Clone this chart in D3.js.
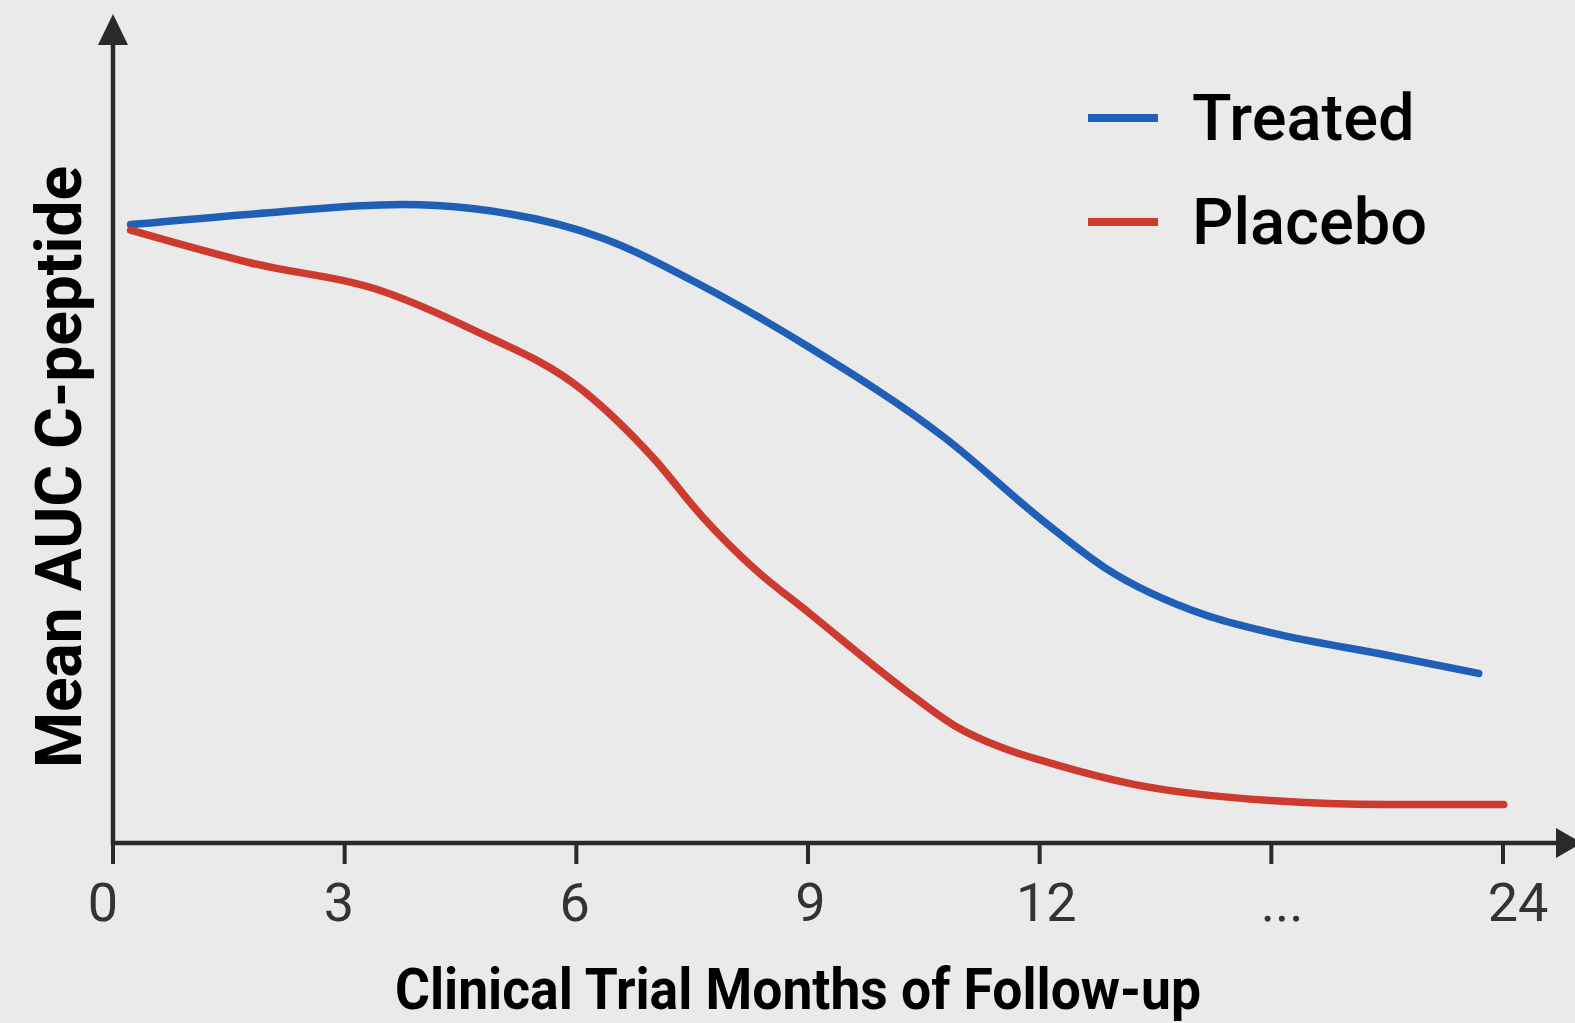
<!DOCTYPE html>
<html>
<head>
<meta charset="utf-8">
<script src="https://cdn.jsdelivr.net/npm/d3@7"></script>
<style>
  html, body { margin: 0; padding: 0; background: #eaeaea; }
  svg { display: block; }
</style>
</head>
<body>
<svg id="chart" width="1575" height="1023"></svg>
<script>
// Axis slots: each tick label occupies one evenly spaced slot along the x axis.
const tickLabels = ["0", "3", "6", "9", "12", "...", "24"];

// Series positions (in axis slots) and mean AUC C-peptide (relative units).
const treatedX = [0.076, 0.596, 1.247, 1.55, 2.114, 2.547, 3.003, 3.588, 4.022, 4.282, 4.715, 4.997, 5.496, 5.895];
const treatedY = [77.3, 78.6, 79.8, 79.3, 75.6, 69.6, 62.0, 50.7, 40.1, 34.4, 28.5, 26.3, 23.5, 21.2];

const placeboX = [0.076, 0.596, 1.16, 1.55, 2.027, 2.33, 2.547, 2.764, 3.003, 3.415, 3.631, 3.848, 4.022, 4.412, 4.997, 5.496, 6.003];
const placeboY = [76.6, 72.5, 69.0, 64.2, 56.6, 48.2, 40.7, 34.4, 28.8, 19.2, 14.7, 11.8, 10.2, 7.3, 5.3, 4.8, 4.8];

const seriesNames = ["Treated", "Placebo"];
const seriesColors = ["#1f5fb6", "#cd3a30"];

const svg = d3.select("#chart");
const W = 1575, H = 1023;
svg.append("rect").attr("width", W).attr("height", H).attr("fill", "#eaeaea");

const x0 = 113, x1 = 1503, yBase = 843;
const x = d3.scaleLinear().domain([0, tickLabels.length - 1]).range([x0, x1]);
// tick labels sit on a slightly wider spread than the tick marks
const xLabel = d3.scaleLinear().domain([0, tickLabels.length - 1]).range([103, 1518]);
const y = d3.scaleLinear().domain([0, 100]).range([yBase, 43]);

const axisColor = "#2a2a2a";

// x axis line with arrow head
svg.append("line")
  .attr("x1", x0).attr("x2", 1562).attr("y1", yBase).attr("y2", yBase)
  .attr("stroke", axisColor).attr("stroke-width", 4.5);
svg.append("path")
  .attr("d", `M1556,${yBase - 15} L1582,${yBase} L1556,${yBase + 15} Z`)
  .attr("fill", axisColor);

// y axis line with arrow head
svg.append("line")
  .attr("x1", x0).attr("x2", x0).attr("y1", yBase + 2).attr("y2", 40)
  .attr("stroke", axisColor).attr("stroke-width", 4.5);
svg.append("path")
  .attr("d", `M${x0 - 15},45 L${x0},14 L${x0 + 15},45 Z`)
  .attr("fill", axisColor);

// ticks
const ticks = svg.append("g");
ticks.selectAll("line").data(tickLabels).join("line")
  .attr("x1", (d, i) => x(i)).attr("x2", (d, i) => x(i))
  .attr("y1", yBase).attr("y2", yBase + 21)
  .attr("stroke", axisColor).attr("stroke-width", 4);
ticks.selectAll("text").data(tickLabels).join("text")
  .attr("x", (d, i) => xLabel(i)).attr("y", 921)
  .attr("text-anchor", "middle")
  .attr("font-family", "Roboto, 'Noto Sans', sans-serif")
  .attr("font-size", 54)
  .attr("fill", "#333")
  .text(d => d);

// axis titles
svg.append("text")
  .attr("x", 395).attr("y", 1009)
  .attr("font-family", "Roboto, 'Noto Sans', sans-serif")
  .attr("font-weight", 700)
  .attr("font-size", 58)
  .attr("textLength", 806)
  .attr("lengthAdjust", "spacingAndGlyphs")
  .attr("fill", "#000")
  .text("Clinical Trial Months of Follow-up");

svg.append("text")
  .attr("transform", "translate(81,467) rotate(-90)")
  .attr("text-anchor", "middle")
  .attr("font-family", "Roboto, 'Noto Sans', sans-serif")
  .attr("font-weight", 700)
  .attr("font-size", 64)
  .attr("textLength", 602)
  .attr("lengthAdjust", "spacingAndGlyphs")
  .attr("fill", "#000")
  .text("Mean AUC C-peptide");

// series lines
const line = d3.line()
  .x(d => x(d[0]))
  .y(d => y(d[1]))
  .curve(d3.curveMonotoneX);

const series = [
  d3.zip(treatedX, treatedY),
  d3.zip(placeboX, placeboY)
];

svg.append("g").selectAll("path").data(series).join("path")
  .attr("d", line)
  .attr("fill", "none")
  .attr("stroke", (d, i) => seriesColors[i])
  .attr("stroke-width", 7.5)
  .attr("stroke-linecap", "round")
  .attr("stroke-linejoin", "round");

// legend
const legend = svg.append("g");
const legendY = [118, 222];
legend.selectAll("line").data(seriesNames).join("line")
  .attr("x1", 1088).attr("x2", 1158)
  .attr("y1", (d, i) => legendY[i]).attr("y2", (d, i) => legendY[i])
  .attr("stroke", (d, i) => seriesColors[i])
  .attr("stroke-width", 8);
legend.selectAll("text").data(seriesNames).join("text")
  .attr("x", 1192)
  .attr("y", (d, i) => legendY[i] + 22)
  .attr("font-family", "Roboto, 'Noto Sans', sans-serif")
  .attr("font-weight", 500)
  .attr("font-size", 65)
  .attr("fill", "#000")
  .text(d => d);
</script>
</body>
</html>
